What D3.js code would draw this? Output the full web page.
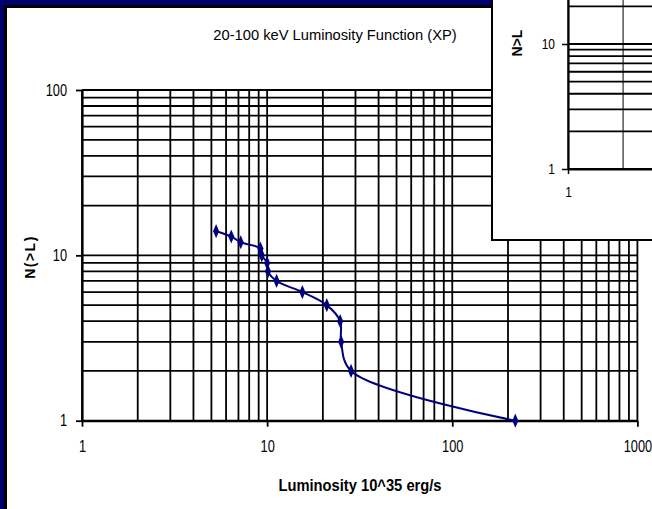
<!DOCTYPE html>
<html>
<head>
<meta charset="utf-8">
<script src="https://cdn.jsdelivr.net/npm/d3@7"></script>
<style>
	html, body { margin: 0; padding: 0; background: #fff; }
	svg { display: block; font-family: 'Liberation Sans', Arial, sans-serif; }
</style>
</head>
<body>
<svg id="chart" width="652" height="509"></svg>
<script>
const luminosity = [5.3, 6.4, 7.2, 9.2, 9.35, 10.0, 10.1, 11.25, 15.5, 21.0, 24.8, 25.1, 28.4, 219];
const nAbove = [14, 13, 12, 11, 10, 9, 8, 7, 6, 5, 4, 3, 2, 1];

const xTicks = [1, 10, 100, 1000];
const yTicks = [1, 10, 100];
const gridSteps = [1, 2, 3, 4, 5, 6, 7, 8, 9];

const insetXTicks = [1];
const insetYTicks = [1, 10];

const title = '20-100 keV Luminosity Function (XP)';
const xTitle = 'Luminosity 10^35 erg/s';
const yTitle = 'N(>L)';
const insetYTitle = 'N>L';

const svg = d3.select('#chart');
const squeeze = 0.8;

// frame: navy slide background with dark shadow, white panel
svg.append('rect').attr('width', 652).attr('height', 509).attr('fill', '#00006e');
svg.append('rect').attr('x', 4).attr('y', 5).attr('width', 660).attr('height', 520).attr('fill', '#000');
svg.append('rect').attr('x', 7).attr('y', 8).attr('width', 660).attr('height', 520).attr('fill', '#fff');

const x = d3.scaleLog().domain([1, 1000]).range([82, 637.4]);
const y = d3.scaleLog().domain([1, 100]).range([420.7, 90]);

function gridValues(domain) {
	const out = [];
	for (let d = domain[0]; d < domain[1]; d *= 10) gridSteps.forEach((m) => out.push(d * m));
	out.push(domain[1]);
	return out;
}

const grid = svg.append('g').attr('stroke', '#000').attr('stroke-width', 1.8);
grid.selectAll('line.v')
	.data(gridValues(x.domain()))
	.join('line')
	.attr('class', 'v')
	.attr('x1', (d) => x(d)).attr('x2', (d) => x(d))
	.attr('y1', y(100)).attr('y2', y(1));
grid.selectAll('line.h')
	.data(gridValues(y.domain()))
	.join('line')
	.attr('class', 'h')
	.attr('x1', x(1)).attr('x2', x(1000))
	.attr('y1', (d) => y(d)).attr('y2', (d) => y(d));

const fmt = d3.format('d');

const xAxis = svg.append('g')
	.attr('transform', `translate(0,${y(1)})`)
	.call(d3.axisBottom(x).tickValues(xTicks).tickFormat(fmt).tickSize(6).tickSizeOuter(0).tickPadding(14));
const yAxis = svg.append('g')
	.attr('transform', `translate(${x(1)},0)`)
	.call(d3.axisLeft(y).tickValues(yTicks).tickFormat(fmt).tickSize(6).tickSizeOuter(0).tickPadding(10));

[xAxis, yAxis].forEach((ax) => {
	ax.select('.domain').attr('stroke', '#000').attr('stroke-width', 2.2);
	ax.selectAll('.tick line').attr('stroke', '#000').attr('stroke-width', 1.8);
	ax.selectAll('.tick text')
		.attr('fill', '#000')
		.style('font-size', '16px')
		.style('font-family', "'Liberation Sans', Arial, sans-serif");
});
xAxis.selectAll('.tick text').attr('transform', `scale(${squeeze},1)`);
yAxis.selectAll('.tick text').attr('transform', `scale(${squeeze},1)`).attr('x', -15 / squeeze);

// series
const pts = luminosity.map((l, i) => [x(l), y(nAbove[i])]);
svg.append('path')
	.attr('d', d3.line().curve(d3.curveCatmullRom.alpha(0.5))(pts))
	.attr('fill', 'none')
	.attr('stroke', '#000080')
	.attr('stroke-width', 2);
svg.selectAll('path.mk')
	.data(pts)
	.join('path')
	.attr('class', 'mk')
	.attr('transform', (d) => `translate(${d[0]},${d[1]}) scale(0.85,1.15)`)
	.attr('d', d3.symbol(d3.symbolDiamond, 44))
	.attr('fill', '#000080');

function label(g, text, tx, ty, opts) {
	return g.append('text')
		.attr('transform', `translate(${tx},${ty}) rotate(${opts.rotate || 0}) scale(${opts.sx || 1},1)`)
		.attr('text-anchor', 'middle')
		.attr('dy', '0.35em')
		.style('font-size', opts.size + 'px')
		.style('font-weight', opts.bold ? 'bold' : 'normal')
		.style('letter-spacing', opts.spacing || 0)
		.attr('fill', '#000')
		.text(text);
}

label(svg, title, 335, 35, { size: 15, sx: 0.98 });
label(svg, xTitle, 360, 485, { size: 16, bold: true, sx: 0.92 });
label(svg, yTitle, 30, 257, { size: 14, bold: true, rotate: -90, spacing: '1.5px' });

// inset chart (partly outside the window)
const inset = svg.append('g');
inset.append('rect')
	.attr('x', 492).attr('y', -20).attr('width', 300).attr('height', 260)
	.attr('fill', '#fff').attr('stroke', '#000').attr('stroke-width', 2);

const ix = d3.scaleLog().domain([1, 1000]).range([568, 568 + 3 * 183]);
const iy = d3.scaleLog().domain([1, 100]).range([169, 169 - 250]);

inset.append('g').attr('stroke', '#000').attr('stroke-width', 1)
	.selectAll('line')
	.data(gridValues(ix.domain()))
	.join('line')
	.attr('x1', (d) => ix(d)).attr('x2', (d) => ix(d))
	.attr('y1', iy(100)).attr('y2', iy(1));
inset.append('g').attr('stroke', '#000').attr('stroke-width', 1.8)
	.selectAll('line')
	.data(gridValues(iy.domain()))
	.join('line')
	.attr('x1', ix(1)).attr('x2', ix(1000))
	.attr('y1', (d) => iy(d)).attr('y2', (d) => iy(d));

const ixAxis = inset.append('g')
	.attr('transform', `translate(0,${iy(1)})`)
	.call(d3.axisBottom(ix).tickValues(insetXTicks).tickFormat(fmt).tickSize(5).tickSizeOuter(0).tickPadding(12));
const iyAxis = inset.append('g')
	.attr('transform', `translate(${ix(1)},0)`)
	.call(d3.axisLeft(iy).tickValues(insetYTicks).tickFormat(fmt).tickSize(6).tickSizeOuter(0).tickPadding(8));
[ixAxis, iyAxis].forEach((ax) => {
	ax.select('.domain').attr('stroke', '#000').attr('stroke-width', 2.2);
	ax.selectAll('.tick line').attr('stroke', '#000').attr('stroke-width', 1.5);
	ax.selectAll('.tick text')
		.attr('fill', '#000')
		.style('font-size', '15px')
		.style('font-family', "'Liberation Sans', Arial, sans-serif")
		.attr('transform', `scale(${squeeze},1)`);
});
iyAxis.selectAll('.tick text').attr('x', -13 / squeeze);

label(inset, insetYTitle, 517, 43, { size: 14, bold: true, rotate: -90 });
</script>
</body>
</html>
